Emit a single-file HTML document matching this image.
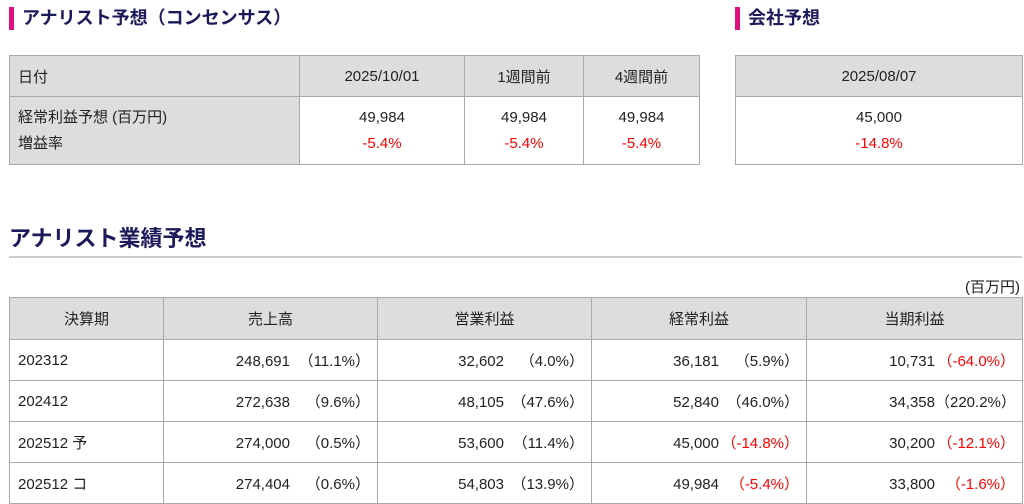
<!DOCTYPE html>
<html><head><meta charset="utf-8"><style>
body{margin:0;width:1024px;height:502px;overflow:hidden;background:#fff;font-family:"Liberation Sans","Noto Sans CJK JP",sans-serif;color:#222;font-size:15px;position:relative}
.h{position:absolute;font-weight:bold;color:#1b1a5a;font-size:18px;line-height:24px}
.bar{position:absolute;width:5px;height:23px;background:#e0117f}
table{position:absolute;border-collapse:collapse}
td{border:1.5px solid #aaa;padding:0 8px}
.g{background:#ddd}
.c{text-align:center}
.r{color:#f00}
.t3 td{height:40px;vertical-align:middle}
.n{display:inline-block;width:100px;text-align:right}
.p{display:inline-block;width:80px;text-align:right}
.cell{text-align:right;padding-right:7px}
</style></head><body>
<div class="bar" style="left:9px;top:7px"></div>
<div class="h" style="left:22px;top:6px">アナリスト予想（コンセンサス）</div>
<div class="bar" style="left:735px;top:7px"></div>
<div class="h" style="left:748px;top:6px">会社予想</div>

<table style="left:9px;top:55px;width:691px">
<tr style="height:41px"><td class="g" style="width:273px">日付</td><td class="g c" style="width:148px">2025/10/01</td><td class="g c" style="width:102px">1週間前</td><td class="g c">4週間前</td></tr>
<tr style="height:68px;line-height:26px"><td class="g">経常利益予想 (百万円)<br>増益率</td><td class="c">49,984<br><span class="r">-5.4%</span></td><td class="c">49,984<br><span class="r">-5.4%</span></td><td class="c">49,984<br><span class="r">-5.4%</span></td></tr>
</table>
<table style="left:735px;top:55px;width:288px">
<tr style="height:41px"><td class="g c">2025/08/07</td></tr>
<tr style="height:68px;line-height:26px"><td class="c">45,000<br><span class="r">-14.8%</span></td></tr>
</table>

<div style="position:absolute;left:9px;top:224px;font-size:22px;font-weight:bold;color:#1b1a5a;line-height:30px">アナリスト業績予想</div>
<div style="position:absolute;left:9px;top:256px;width:1013px;height:2px;background:#ccc"></div>
<div style="position:absolute;right:4px;top:276px;font-size:15px">(百万円)</div>

<table class="t3" style="left:9px;top:297px;width:1014px">
<tr><td class="g c" style="width:137px;height:41px">決算期</td><td class="g c" style="width:197px">売上高</td><td class="g c" style="width:197px">営業利益</td><td class="g c" style="width:198px">経常利益</td><td class="g c">当期利益</td></tr>
<tr><td>202312</td><td class="cell"><span class="n">248,691</span><span class="p">（11.1%）</span></td><td class="cell"><span class="n">32,602</span><span class="p">（4.0%）</span></td><td class="cell"><span class="n">36,181</span><span class="p">（5.9%）</span></td><td class="cell"><span class="n">10,731</span><span class="p r">（-64.0%）</span></td></tr>
<tr><td>202412</td><td class="cell"><span class="n">272,638</span><span class="p">（9.6%）</span></td><td class="cell"><span class="n">48,105</span><span class="p">（47.6%）</span></td><td class="cell"><span class="n">52,840</span><span class="p">（46.0%）</span></td><td class="cell"><span class="n">34,358</span><span class="p">（220.2%）</span></td></tr>
<tr><td>202512 予</td><td class="cell"><span class="n">274,000</span><span class="p">（0.5%）</span></td><td class="cell"><span class="n">53,600</span><span class="p">（11.4%）</span></td><td class="cell"><span class="n">45,000</span><span class="p r">（-14.8%）</span></td><td class="cell"><span class="n">30,200</span><span class="p r">（-12.1%）</span></td></tr>
<tr><td>202512 コ</td><td class="cell"><span class="n">274,404</span><span class="p">（0.6%）</span></td><td class="cell"><span class="n">54,803</span><span class="p">（13.9%）</span></td><td class="cell"><span class="n">49,984</span><span class="p r">（-5.4%）</span></td><td class="cell"><span class="n">33,800</span><span class="p r">（-1.6%）</span></td></tr>
</table>
</body></html>
